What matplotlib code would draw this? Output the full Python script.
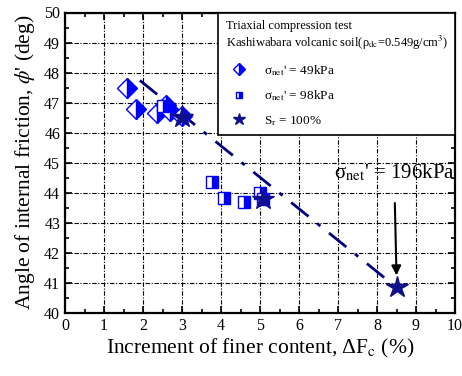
import matplotlib
matplotlib.use("Agg")
import matplotlib.pyplot as plt
from matplotlib.lines import Line2D
from matplotlib.ticker import MultipleLocator

plt.rcParams['font.family'] = ['Liberation Serif', 'DejaVu Serif']
plt.rcParams['mathtext.fontset'] = 'stix'

# data
x49 = [1.60, 1.82, 2.35, 2.60, 2.68, 3.00]
y49 = [47.48, 46.78, 46.64, 46.93, 46.72, 46.55]
x98 = [2.52, 3.78, 4.08, 4.59, 4.99, 5.08]
y98 = [46.88, 44.36, 43.84, 43.70, 44.00, 43.80]
xsr = [3.00, 5.08, 8.50]
ysr = [46.52, 43.79, 40.85]
xfit = [1.92, 8.50]
yfit = [47.74, 40.85]

blue = '#0000ff'
navy = '#10108c'

fig = plt.figure(figsize=(4.62, 3.76), dpi=100)
ax = fig.add_axes([65/462, 1-313/376, 390/462, 300.5/376])

ax.plot(xfit, yfit, color='#000080', lw=2.0, ls=(0, (8, 4, 1.5, 4)), zorder=2)
ax.plot(x49, y49, ls='none', marker='D', ms=10, mfc=blue, mec=blue, mew=1.0,
        fillstyle='right', markerfacecoloralt='white', zorder=3)
ax.plot(x98, y98, ls='none', marker='s', ms=8, mfc=blue, mec=blue, mew=1.0,
        fillstyle='right', markerfacecoloralt='white', zorder=3)
ax.plot(xsr, ysr, ls='none', marker='*', ms=16, color=navy, zorder=4)

ax.set_xlim(0, 10)
ax.set_ylim(40, 50)
ax.xaxis.set_major_locator(MultipleLocator(1))
ax.xaxis.set_minor_locator(MultipleLocator(0.5))
ax.yaxis.set_major_locator(MultipleLocator(1))
ax.yaxis.set_minor_locator(MultipleLocator(0.5))
ax.tick_params(which='both', direction='in', top=True, right=True, labelsize=11.5, width=1.2)
ax.tick_params(which='major', length=5)
ax.tick_params(which='minor', length=3)
for s in ax.spines.values():
    s.set_linewidth(1.6)
ax.grid(True, which='major', color='black', lw=0.8, ls=(0, (4, 1.5, 1, 1.5)))

ax.set_xlabel(r"Increment of finer content, ΔF$_{\rm c}$ (%)", fontsize=15.5, labelpad=2)
ax.set_ylabel(r"Angle of internal friction, $\phi$' (deg)", fontsize=15.5, labelpad=5)

handles = [
    Line2D([], [], ls='none', marker='D', ms=6, mfc=blue, mec=blue, fillstyle='right', markerfacecoloralt='white'),
    Line2D([], [], ls='none', marker='s', ms=5, mfc=blue, mec=blue, fillstyle='right', markerfacecoloralt='white'),
    Line2D([], [], ls='none', marker='*', ms=9, color=navy),
]
labels = [r"σ$_{\rm net}$' = 49kPa", r"σ$_{\rm net}$' = 98kPa", r"S$_{\rm r}$ = 100%"]
leg = ax.legend(handles, labels, loc='upper right', borderaxespad=0, fontsize=9.5,
                title="Triaxial compression test\nKashiwabara volcanic soil(ρ$_{\\rm dc}$=0.549g/cm$^3$)",
                title_fontsize=9, alignment='left', fancybox=False, framealpha=1,
                edgecolor='black', labelspacing=0.8, handletextpad=0.9, borderpad=0.55)
leg.get_frame().set_linewidth(1.2)

ax.annotate(r"σ$_{\rm net}$' = 196kPa", xy=(8.5, 41.25), xytext=(8.44, 44.65),
            fontsize=15, ha='center', va='center',
            arrowprops=dict(arrowstyle='-|>', color='black', lw=1.5, mutation_scale=14,
                            shrinkA=12, shrinkB=0))

fig.savefig('out.png', dpi=100)
